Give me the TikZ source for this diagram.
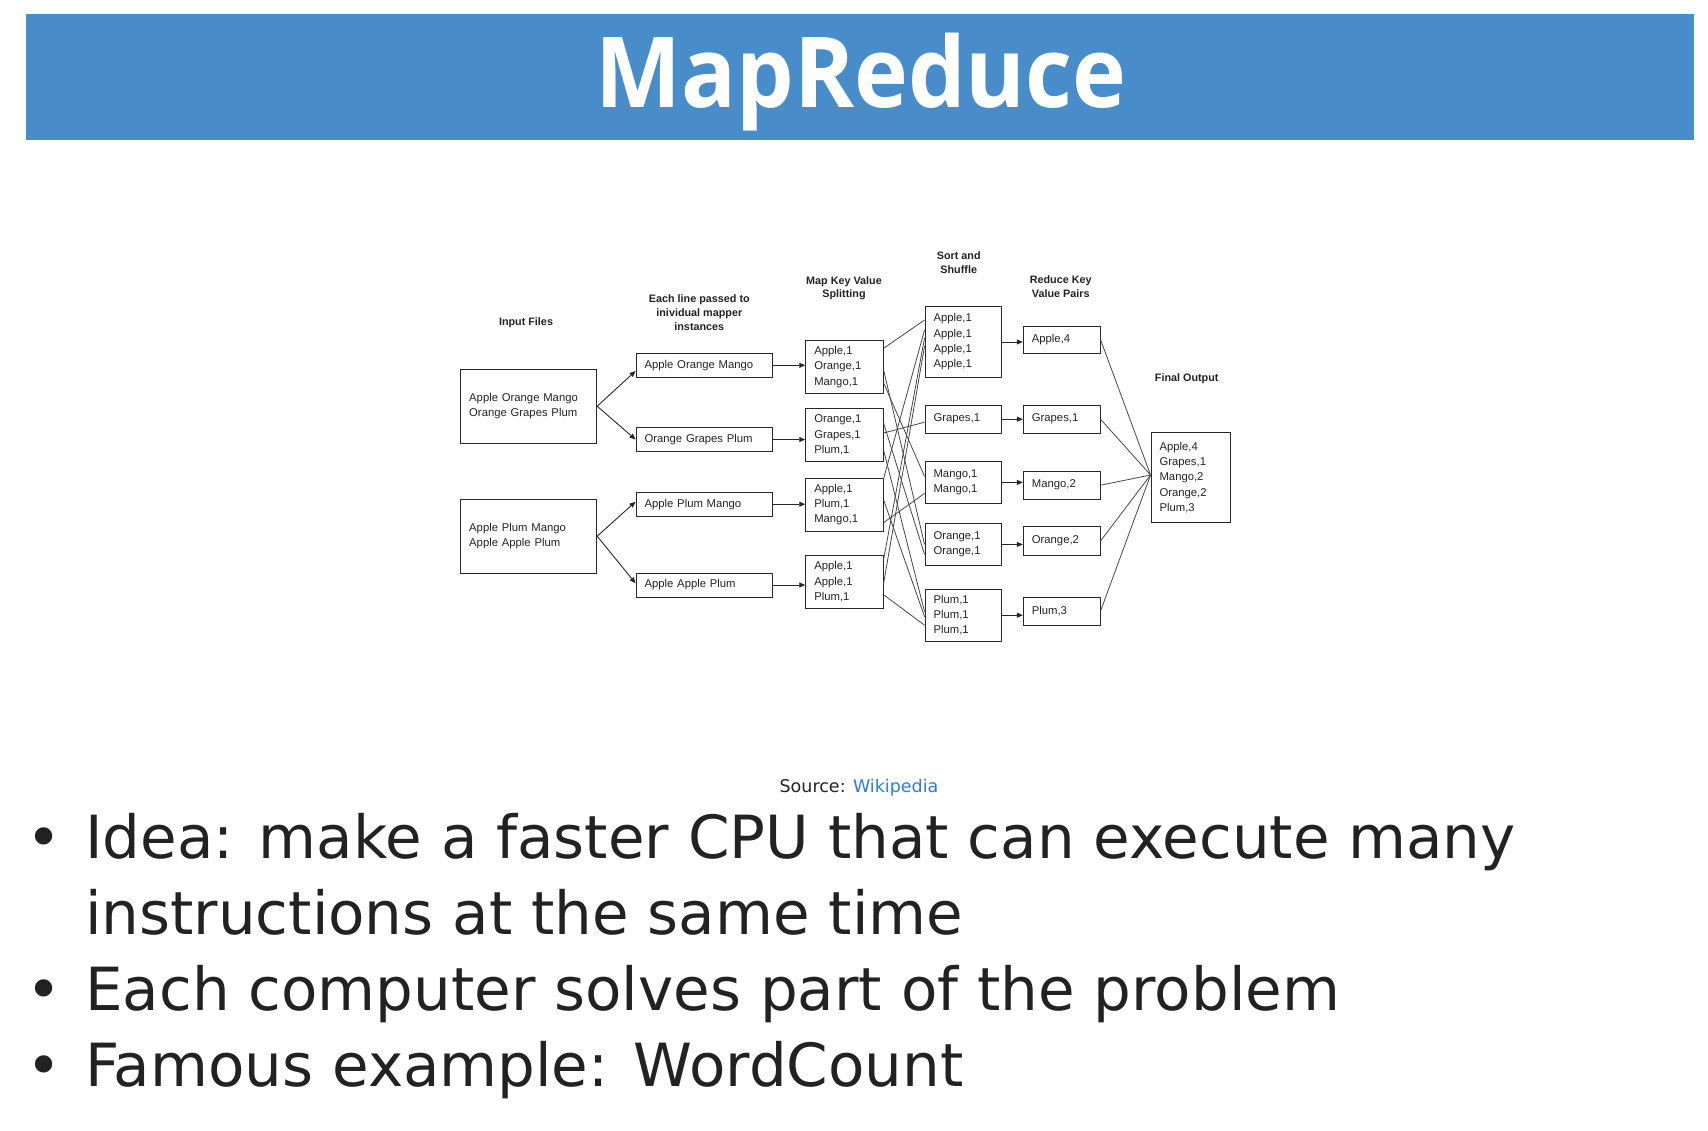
\documentclass[tikz,border=0pt]{standalone}
\usepackage{fontspec}
\setmainfont{Liberation Sans}
\newfontfamily\titlefont{Open Sans}
\newfontfamily\slidefont{DejaVu Sans}
\usetikzlibrary{arrows.meta}
\definecolor{barc}{RGB}{72,141,201}
\definecolor{txtc}{RGB}{34,34,34}
\definecolor{boxc}{RGB}{40,40,40}
\definecolor{wirec}{RGB}{70,70,70}
\definecolor{linkc}{RGB}{47,123,220}
\newcommand\boxfnt{\fontsize{11.3}{15.3}\selectfont}
\newcommand\hdrfnt{\fontsize{10.8}{13.7}\selectfont\bfseries}
\tikzset{
  box/.style={draw=boxc, line width=1pt, inner xsep=8.5pt, inner ysep=0pt, align=left, font=\boxfnt, text=txtc},
  hdr/.style={font=\hdrfnt, align=center, text=txtc, inner sep=0pt},
  arr/.style={-{Triangle[length=6pt,width=5pt]}, line width=0.9pt, draw=boxc},
  wire/.style={line width=0.8pt, draw=wirec},
  bullettext/.style={font=\slidefont\fontsize{59.5}{76}\selectfont, text=txtc, inner sep=0pt, anchor=base west},
  bulletdot/.style={font=\slidefont\fontsize{59.5}{76}\selectfont, text=txtc, inner sep=0pt, anchor=base},
}
\begin{document}
\begin{tikzpicture}[x=1pt,y=-1pt]
\useasboundingbox (0,0) rectangle (1708,1130);
% title bar
\fill[barc] (26,14) rectangle (1694,139.5);
\node[anchor=base, inner sep=0pt, text=white, font=\titlefont\bfseries\fontsize{98}{110}\selectfont] (title) at (861,107.7) {\scalebox{0.93}[1]{MapReduce}};

% headers
\node[hdr] (hInput) at (526,322.7) {Input Files};
\node[hdr] (hMapper) at (699.3,312.7) {Each line passed to\\inividual mapper\\instances};
\node[hdr] (hKV) at (844,288.3) {Map Key Value\\Splitting};
\node[hdr] (hSort) at (958.7,262.5) {Sort and\\Shuffle};
\node[hdr] (hRed) at (1060.7,286.7) {Reduce Key\\Value Pairs};
\node[hdr] (hFin) at (1186.7,378.3) {Final Output};

% input files
\node[box, text width=119pt, minimum height=74.3pt] (in1) at (528.7,406.2) {Apple Orange Mango\\Orange Grapes Plum};
\node[box, text width=119pt, minimum height=74.3pt] (in2) at (528.7,536.2) {Apple Plum Mango\\Apple Apple Plum};

% mapper lines
\node[box, text width=119.3pt, minimum height=24pt] (m1) at (704.2,365.3) {Apple Orange Mango};
\node[box, text width=119.3pt, minimum height=24pt] (m2) at (704.2,439.5) {Orange Grapes Plum};
\node[box, text width=119.3pt, minimum height=24pt] (m3) at (704.2,504.2) {Apple Plum Mango};
\node[box, text width=119.3pt, minimum height=24pt] (m4) at (704.2,585) {Apple Apple Plum};

% map key value
\node[box, text width=60.3pt, minimum height=53pt] (k1) at (844.4,366.8) {Apple,1\\Orange,1\\Mango,1};
\node[box, text width=60.3pt, minimum height=53pt] (k2) at (844.4,435) {Orange,1\\Grapes,1\\Plum,1};
\node[box, text width=60.3pt, minimum height=53pt] (k3) at (844.4,504.7) {Apple,1\\Plum,1\\Mango,1};
\node[box, text width=60.3pt, minimum height=53pt] (k4) at (844.4,581.7) {Apple,1\\Apple,1\\Plum,1};

% sort and shuffle
\node[box, text width=59.3pt, minimum height=70.6pt] (s1) at (963.2,342) {Apple,1\\Apple,1\\Apple,1\\Apple,1};
\node[box, text width=59.3pt, minimum height=27.7pt] (s2) at (963.2,419.2) {Grapes,1};
\node[box, text width=59.3pt, minimum height=41.3pt] (s3) at (963.2,482.4) {Mango,1\\Mango,1};
\node[box, text width=59.3pt, minimum height=41.3pt] (s4) at (963.2,544.4) {Orange,1\\Orange,1};
\node[box, text width=59.3pt, minimum height=52.3pt] (s5) at (963.2,615.2) {Plum,1\\Plum,1\\Plum,1};

% reduce
\node[box, text width=59.7pt, minimum height=27.3pt] (r1) at (1061.7,339.7) {Apple,4};
\node[box, text width=59.7pt, minimum height=27.7pt] (r2) at (1061.7,419.2) {Grapes,1};
\node[box, text width=59.7pt, minimum height=27.7pt] (r3) at (1061.7,485.2) {Mango,2};
\node[box, text width=59.7pt, minimum height=28.3pt] (r4) at (1061.7,540.9) {Orange,2};
\node[box, text width=59.7pt, minimum height=28pt] (r5) at (1061.7,611) {Plum,3};

% final output
\node[box, text width=62.3pt, minimum height=89.3pt] (fin) at (1190.7,477.4) {Apple,4\\Grapes,1\\Mango,2\\Orange,2\\Plum,3};

% input -> mapper
\draw[arr] (in1.east) -- ([yshift=-5.7pt]m1.west);
\draw[arr] (in1.east) -- (m2.west);
\draw[arr] (in2.east) -- ([yshift=2.5pt]m3.west);
\draw[arr] (in2.east) -- ([yshift=1.7pt]m4.west);

% mapper -> map kv
\foreach \a/\b in {m1/k1,m2/k2,m3/k3,m4/k4}
  \draw[arr] (\a.east) -- (\a.east -| \b.west);

% shuffle
\draw[wire] ([yshift=18.5pt]k1.east) -- ([yshift=22pt]s1.west);
\draw[wire] ([yshift=-3pt]k1.east) -- ([yshift=0pt]s4.west);
\draw[wire] ([yshift=-16pt]k1.east) -- ([yshift=6pt]s3.west);
\draw[wire] ([yshift=12pt]k2.east) -- ([yshift=-10pt]s4.west);
\draw[wire] ([yshift=2pt]k2.east) -- ([yshift=-3pt]s2.west);
\draw[wire] ([yshift=-15pt]k2.east) -- ([yshift=3.5pt]s5.west);
\draw[wire] ([yshift=26pt]k3.east) -- ([yshift=12pt]s1.west);
\draw[wire] ([yshift=5pt]k3.east) -- ([yshift=-1.5pt]s5.west);
\draw[wire] ([yshift=-18pt]k3.east) -- ([yshift=-11pt]s3.west);
\draw[wire] ([yshift=22pt]k4.east) -- ([yshift=4pt]s1.west);
\draw[wire] ([yshift=-2pt]k4.east) -- ([yshift=-4pt]s1.west);
\draw[wire] ([yshift=-13pt]k4.east) -- ([yshift=-10pt]s5.west);

% sort -> reduce
\foreach \a/\b in {s1/r1,s2/r2,s3/r3,s4/r4,s5/r5}
  \draw[arr] (\a.east) -- (\a.east -| \b.west);

% reduce -> final
\coordinate (fjoin) at ([yshift=2.4pt]fin.west);
\foreach \a in {r1,r2,r3,r4,r5}
  \draw[wire] (\a.east) -- (fjoin);

% source
\node[anchor=base, inner sep=0pt, font=\slidefont\fontsize{17.5}{20}\selectfont, text=txtc] (src) at (859,792.7) {Source: \textcolor{linkc}{Wikipedia}};

% bullets
\node[bulletdot] (b1) at (43.6,858.3) {•};
\node[bullettext] (t1) at (85,858.3) {Idea: make a faster CPU that can execute many};
\node[bullettext] (t1b) at (85,934) {instructions at the same time};
\node[bulletdot] (b2) at (43.6,1010) {•};
\node[bullettext] (t2) at (85,1010) {Each computer solves part of the problem};
\node[bulletdot] (b3) at (43.6,1086.7) {•};
\node[bullettext] (t3) at (85,1086.7) {Famous example: WordCount};
\end{tikzpicture}
\end{document}
